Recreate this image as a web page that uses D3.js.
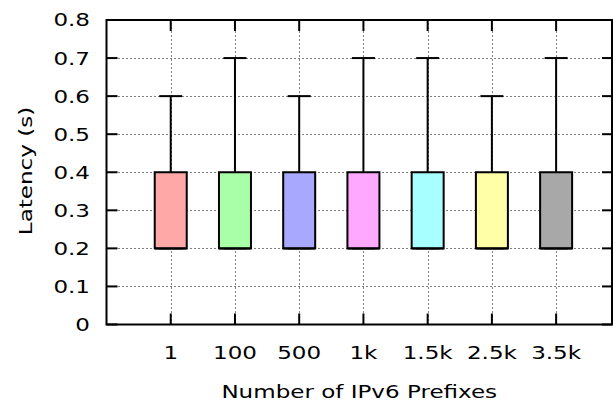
<!DOCTYPE html>
<html>
<head>
<meta charset="utf-8">
<script src="https://cdn.jsdelivr.net/npm/d3@7"></script>
<style>
  body { margin: 0; background: #fff; }
  svg { display: block; font-family: "DejaVu Sans", sans-serif; }
</style>
</head>
<body>
<svg width="613" height="401"></svg>
<script>
var categories = ["1", "100", "500", "1k", "1.5k", "2.5k", "3.5k"];
var mins    = [0.2, 0.2, 0.2, 0.2, 0.2, 0.2, 0.2];
var q1s     = [0.2, 0.2, 0.2, 0.2, 0.2, 0.2, 0.2];
var medians = [0.2, 0.2, 0.2, 0.2, 0.2, 0.2, 0.2];
var q3s     = [0.4, 0.4, 0.4, 0.4, 0.4, 0.4, 0.4];
var maxs    = [0.6, 0.7, 0.6, 0.7, 0.7, 0.6, 0.7];
var colors  = ["#ffa8a8", "#a8ffa8", "#a8a8ff", "#ffa8ff", "#a8ffff", "#ffffa8", "#a8a8a8"];
var yTicks  = [0, 0.1, 0.2, 0.3, 0.4, 0.5, 0.6, 0.7, 0.8];

var svg = d3.select("svg"),
    pLeft = 106.5, pRight = 612, pTop = 20, pBottom = 324.5,
    stretch = 1.28;   // glyphs in the reference are wider than DejaVu

var x = d3.scaleLinear().domain([0, 7.87]).range([pLeft, pRight]);
var y = d3.scaleLinear().domain([0, 0.8]).range([pBottom, pTop]);

var data = categories.map(function(c, i) {
    return { cat: c, pos: i + 1, min: mins[i], q1: q1s[i], med: medians[i], q3: q3s[i], max: maxs[i], color: colors[i] };
});

// grid
var grid = svg.append("g")
    .attr("stroke", "#000")
    .attr("stroke-width", 1)
    .attr("stroke-dasharray", "1,3");
grid.selectAll(".hg").data(yTicks.slice(1, -1)).enter().append("line")
    .attr("x1", pLeft).attr("x2", pRight)
    .attr("y1", d => Math.round(y(d)) + 0.5).attr("y2", d => Math.round(y(d)) + 0.5);
grid.selectAll(".vg").data(data).enter().append("line")
    .attr("x1", d => Math.round(x(d.pos)) + 0.5).attr("x2", d => Math.round(x(d.pos)) + 0.5)
    .attr("y1", pBottom).attr("y2", pTop);

// ticks (inner, mirrored)
var tk = svg.append("g").attr("stroke", "#000").attr("stroke-width", 2);
yTicks.forEach(function(t) {
    tk.append("line").attr("x1", pLeft).attr("x2", pLeft + 11).attr("y1", y(t)).attr("y2", y(t));
    tk.append("line").attr("x1", pRight).attr("x2", pRight - 10).attr("y1", y(t)).attr("y2", y(t));
});
data.forEach(function(d) {
    tk.append("line").attr("x1", x(d.pos)).attr("x2", x(d.pos)).attr("y1", pBottom).attr("y2", pBottom - 11);
    tk.append("line").attr("x1", x(d.pos)).attr("x2", x(d.pos)).attr("y1", pTop).attr("y2", pTop + 11);
});

// boxes
var boxW = 32, capW = 23;
var g = svg.selectAll(".box").data(data).enter().append("g")
    .attr("stroke", "#000").attr("stroke-width", 2);
g.append("line")
    .attr("x1", d => x(d.pos)).attr("x2", d => x(d.pos))
    .attr("y1", d => y(d.q3)).attr("y2", d => y(d.max));
g.append("line")
    .attr("x1", d => x(d.pos)).attr("x2", d => x(d.pos))
    .attr("y1", d => y(d.q1)).attr("y2", d => y(d.min));
g.append("line")
    .attr("x1", d => x(d.pos) - capW / 2).attr("x2", d => x(d.pos) + capW / 2)
    .attr("y1", d => y(d.max)).attr("y2", d => y(d.max));
g.append("line")
    .attr("x1", d => x(d.pos) - capW / 2).attr("x2", d => x(d.pos) + capW / 2)
    .attr("y1", d => y(d.min)).attr("y2", d => y(d.min));
g.append("rect")
    .attr("x", d => x(d.pos) - boxW / 2).attr("width", boxW)
    .attr("y", d => y(d.q3)).attr("height", d => y(d.q1) - y(d.q3))
    .attr("fill", d => d.color);
g.append("line")
    .attr("x1", d => x(d.pos) - boxW / 2).attr("x2", d => x(d.pos) + boxW / 2)
    .attr("y1", d => y(d.med)).attr("y2", d => y(d.med));

// frame
svg.append("rect")
    .attr("x", pLeft).attr("y", pTop).attr("width", pRight - pLeft).attr("height", pBottom - pTop)
    .attr("fill", "none").attr("stroke", "#000").attr("stroke-width", 2);

// labels
svg.append("g").selectAll("text").data(yTicks).enter().append("text")
    .attr("transform", d => "translate(90," + y(d) + ") scale(" + stretch + ",1)")
    .attr("dy", "0.36em")
    .attr("text-anchor", "end").attr("font-size", 18)
    .text(d => d === 0 ? "0" : d3.format(".1f")(d));

svg.append("g").selectAll("text").data(data).enter().append("text")
    .attr("transform", d => "translate(" + x(d.pos) + ",358.5) scale(" + stretch + ",1)")
    .attr("text-anchor", "middle").attr("font-size", 18)
    .text(d => d.cat);

svg.append("text")
    .attr("transform", "translate(" + ((pLeft + pRight) / 2) + ",398) scale(" + stretch + ",1)")
    .attr("text-anchor", "middle").attr("font-size", 18)
    .text("Number of IPv6 Prefixes");

svg.append("text")
    .attr("transform", "translate(32,171) rotate(-90) scale(" + stretch + ",1)")
    .attr("text-anchor", "middle").attr("font-size", 18)
    .text("Latency (s)");
</script>
</body>
</html>
